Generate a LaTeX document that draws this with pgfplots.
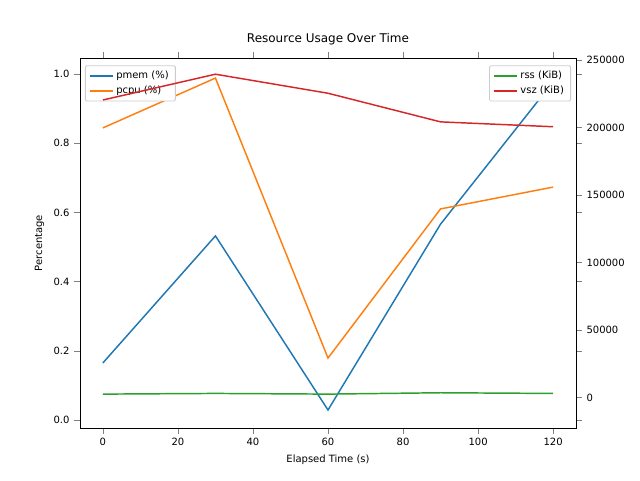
\documentclass[border=0pt]{standalone}
\usepackage{pgfplots}
\pgfplotsset{compat=1.18}
\usepackage{fontspec}
\setmainfont{DejaVu Sans}
\definecolor{tb}{HTML}{1F77B4}
\definecolor{to}{HTML}{FF7F0E}
\definecolor{tg}{HTML}{2CA02C}
\definecolor{tr}{HTML}{D62728}
\begin{document}
\begin{tikzpicture}
\path (0,0) rectangle (480pt,360pt);
\pgfplotsset{every axis/.append style={
  at={(60pt,39pt)}, anchor=south west, scale only axis, width=372pt, height=277.5pt,
  xmin=-6.1, xmax=126.1, tick align=outside, font=\fontsize{7.5}{9}\selectfont,
  scaled ticks=false, line width=0.6pt,
  legend cell align=left, legend style={draw=black!20, rounded corners=1pt, font=\fontsize{7.5}{9}\selectfont}}}
\begin{axis}[ymin=-0.023, ymax=1.046, xtick={0,20,40,60,80,100,120},
  xticklabels={0,20,40,60,80,100,120},
  ytick={0,0.2,0.4,0.6,0.8,1.0}, yticklabels={0.0,0.2,0.4,0.6,0.8,1.0},
  xlabel={Elapsed Time (s)}, ylabel={Percentage}, title={Resource Usage Over Time},
  title style={font=\fontsize{9}{11}\selectfont},
  legend style={at={(0.01,0.98)}, anchor=north west}]
\addplot[tb, line width=1.1pt] coordinates {(0,0.165)(30,0.532)(60,0.029)(90,0.566)(120,0.977)};
\addlegendentry{pmem (\%)}
\addplot[to, line width=1.1pt] coordinates {(0,0.844)(30,0.988)(60,0.179)(90,0.610)(120,0.673)};
\addlegendentry{pcpu (\%)}
\end{axis}
\begin{axis}[ymin=-22600, ymax=251400, axis y line*=right, axis x line=none,
  ytick={0,50000,100000,150000,200000,250000},
  yticklabels={0,50000,100000,150000,200000,250000},
  legend style={at={(0.99,0.98)}, anchor=north east}]
\addplot[tg, line width=1.1pt] coordinates {(0,2500)(30,3000)(60,2500)(90,3500)(120,3000)};
\addlegendentry{rss (KiB)}
\addplot[tr, line width=1.1pt] coordinates {(0,220300)(30,239400)(60,225300)(90,204100)(120,200500)};
\addlegendentry{vsz (KiB)}
\end{axis}
\end{tikzpicture}
\end{document}
